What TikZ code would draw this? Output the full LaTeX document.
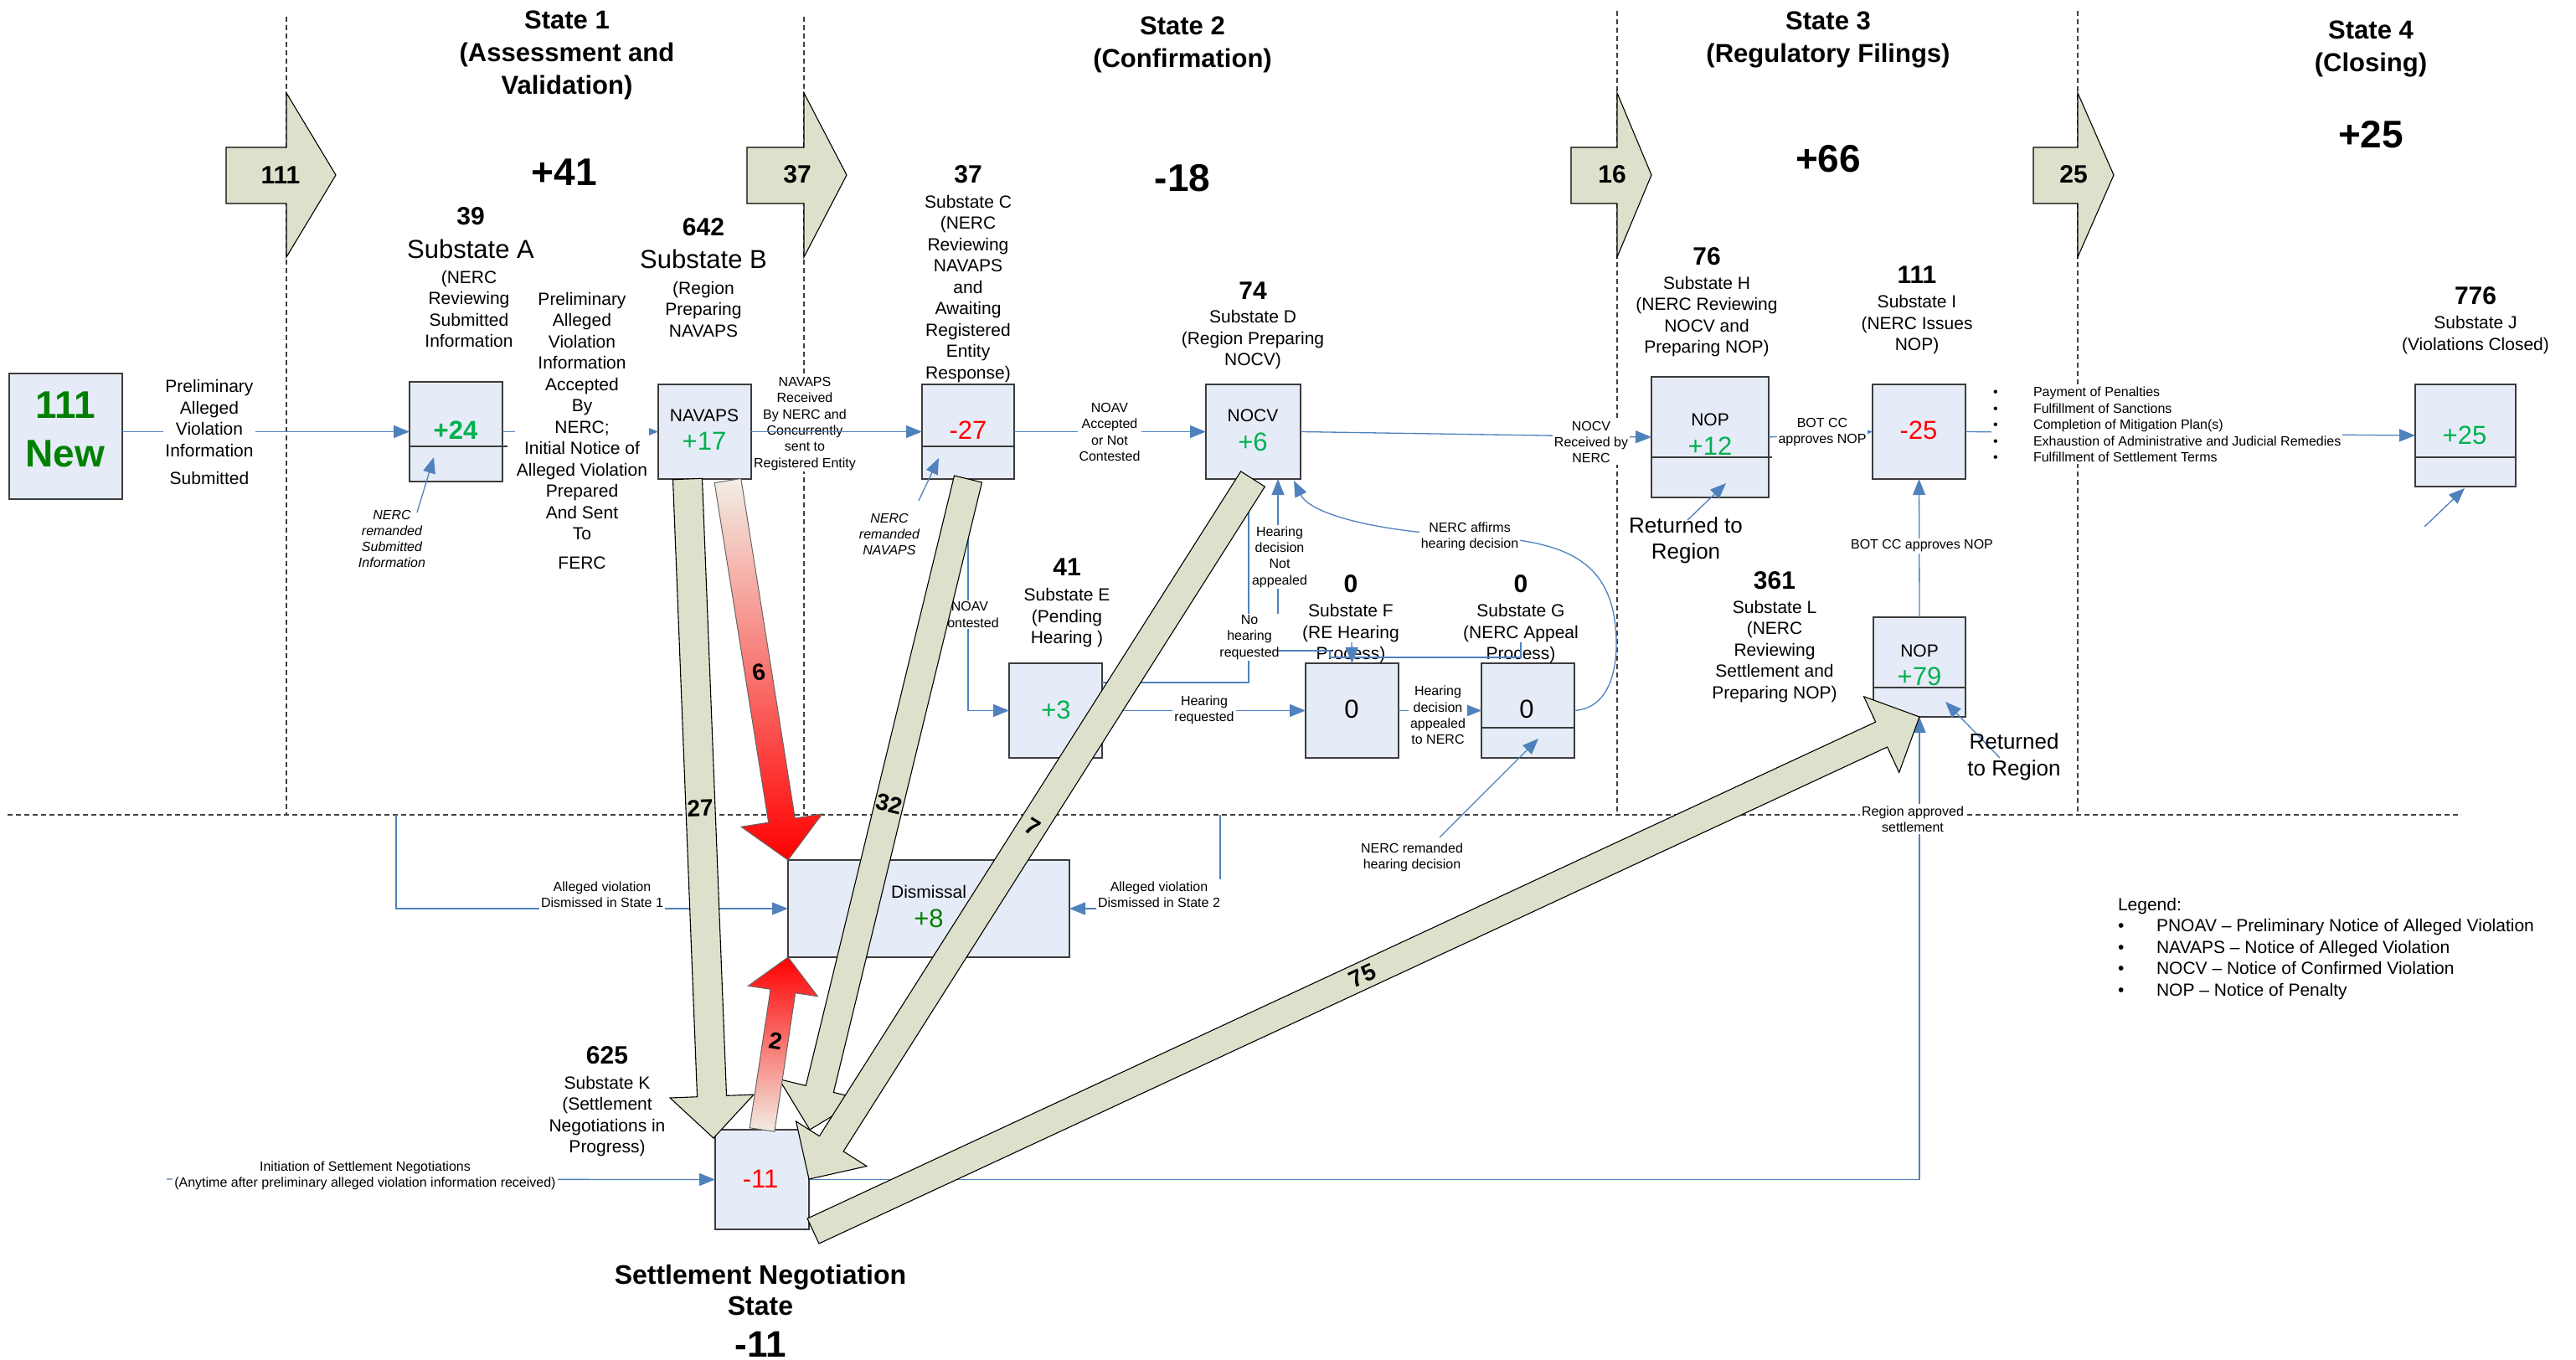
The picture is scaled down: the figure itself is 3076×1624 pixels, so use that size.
\documentclass[tikz,border=0pt]{standalone}
\usepackage{fontspec}
\setmainfont{Liberation Sans}
\usetikzlibrary{arrows.meta,calc}
\definecolor{barfill}{RGB}{221,225,203}
\definecolor{boxfill}{RGB}{230,236,247}
\definecolor{boxline}{RGB}{60,60,60}
\definecolor{conn}{RGB}{79,129,189}
\definecolor{grn}{RGB}{0,176,80}
\definecolor{dgrn}{RGB}{0,128,0}
\definecolor{cream}{RGB}{242,238,228}
\definecolor{rd}{RGB}{255,0,0}
\newcommand\fs[2]{\fontsize{#1}{#2}\selectfont}
\newcommand\mkbox[5]{\node[xbox, minimum width={(#4-#2)*1pt}, minimum height={(#5-#3)*1pt}] (#1) at ({(#2+#4)/2},{(#3+#5)/2}) {};}
\newcommand\blockarrow[6]{%
  \coordinate (ba-h) at ($(#2)!#5!(#1)$);
  \path[#6] ($(#1)!#3!90:(#2)$) -- ($(ba-h)!#3!90:(#2)$) -- ($(ba-h)!#4!90:(#2)$) -- (#2)
    -- ($(ba-h)!#4!-90:(#2)$) -- ($(ba-h)!#3!-90:(#2)$) -- ($(#1)!#3!-90:(#2)$) -- cycle;}
\newcommand\topblock[3]{%
  \draw[xtop] (#1,176) -- (#2,176) -- (#2,111) -- (#3,209) -- (#2,307) -- (#2,243) -- (#1,243) -- cycle;}
\begin{document}
\begin{tikzpicture}[x=1pt,y=-1pt,
  every node/.style={inner sep=0pt, outer sep=0pt},
  xlab/.style={align=center, font=\fs{21}{25.5}},
  xsml/.style={align=center, font=\fs{16}{19.3}},
  xwh/.style={fill=white, inner sep=2pt},
  xbig/.style={align=center, font=\fs{31}{39}\bfseries},
  xnum/.style={font=\fs{30}{36}\bfseries},
  xsub/.style={font=\fs{31}{36}},
  xdelta/.style={font=\fs{46}{52}\bfseries},
  xbox/.style={draw=boxline, fill=boxfill, line width=1.4pt},
  xboxnum/.style={font=\fs{31}{36}},
  xboxtxt/.style={font=\fs{21}{25}},
  xcn/.style={draw=conn, line width=1.3pt},
  xcna/.style={xcn, -{Triangle[length=19pt,width=15pt]}},
  xdash/.style={draw=black!75, line width=1.1pt, dash pattern=on 6pt off 4pt},
  xbar/.style={fill=barfill, draw=black, line width=1.1pt},
  xtop/.style={fill=barfill, draw=black, line width=1.1pt},
  xredd/.style={top color=cream, bottom color=rd, draw=black!60, line width=1pt},
  xredu/.style={bottom color=cream, top color=rd, draw=black!60, line width=1pt},
  xbarnum/.style={font=\fs{28}{32}\bfseries},
  xital/.style={align=center, font=\fs{16}{19}\itshape}]
\fill[white] (0,0) rectangle (3076,1624);
\useasboundingbox (0,0) rectangle (3076,1624);

% ---- dashed separators
\draw[xdash] (342,20) -- (342,973);
\draw[xdash] (960,20) -- (960,973);
\draw[xdash] (1931,13) -- (1931,973);
\draw[xdash] (2481,13) -- (2481,973);
\draw[xdash] (9,973) -- (2939,973);

% ---- top block arrows
\topblock{270}{342}{401}
\topblock{892}{960}{1011}
\topblock{1876}{1931}{1972}
\topblock{2428}{2481}{2524}
\node[xnum] at (335,209) {111};
\node[xnum] at (952,208) {37};
\node[xnum] at (1925,208) {16};
\node[xnum] at (2476,208) {25};

% ---- state titles
\node[xbig] at (677,66) {State 1\\(Assessment and\\Validation)};
\node[xdelta] at (674,206) {+41};
\node[xbig] at (1412,53) {State 2\\(Confirmation)};
\node[xdelta] at (1412,213) {-18};
\node[xbig] at (2183,47) {State 3\\(Regulatory Filings)};
\node[xdelta] at (2183,190) {+66};
\node[xbig] at (2831,58) {State 4\\(Closing)};
\node[xdelta] at (2831,161) {+25};

% ---- boxes
\mkbox{New}{11}{446}{146}{596}
\mkbox{A}{489}{456}{600}{575}
\mkbox{B}{786}{459}{897}{572}
\mkbox{C}{1101}{459}{1211}{572}
\mkbox{D}{1440}{459}{1553}{572}
\mkbox{E}{1205}{792}{1316}{905}
\mkbox{F}{1559}{792}{1670}{905}
\mkbox{G}{1769}{792}{1880}{905}
\mkbox{H}{1972}{450}{2112}{594}
\mkbox{I}{2236}{459}{2347}{572}
\mkbox{J}{2884}{459}{3004}{581}
\mkbox{K}{854}{1349}{966}{1468}
\mkbox{L}{2237}{737}{2347}{856}
\mkbox{Dis}{941}{1027}{1277}{1143}
\draw[boxline, line width=1.4pt] (489,533) -- (606,533);
\draw[boxline, line width=1.4pt] (1101,533) -- (1211,533);
\draw[boxline, line width=1.4pt] (1769,869) -- (1880,869);
\draw[boxline, line width=1.4pt] (1972,546) -- (2116,546);
\draw[boxline, line width=1.4pt] (2884,546) -- (3004,546);
\draw[boxline, line width=1.4pt] (2237,821) -- (2347,821);

% ---- box contents
\node[font=\fs{46}{58}\bfseries, text=dgrn, align=center] at (78,513) {111\\New};
\node[font=\fs{31}{36}\bfseries, text=grn] at (544,514) {+24};
\node[xboxtxt] at (841,496) {NAVAPS};
\node[xboxnum, text=grn] at (841,527) {+17};
\node[xboxnum, text=rd] at (1156,514) {-27};
\node[xboxtxt] at (1496,496) {NOCV};
\node[xboxnum, text=grn] at (1496,528) {+6};
\node[xboxnum, text=grn] at (1261,848) {+3};
\node[xboxnum] at (1614,847) {0};
\node[xboxnum] at (1823,847) {0};
\node[xboxtxt] at (2042,501) {NOP};
\node[xboxnum, text=grn] at (2042,533) {+12};
\node[xboxnum, text=rd] at (2291,514) {-25};
\node[xboxnum, text=grn] at (2943,520) {+25};
\node[xboxnum, text=rd] at (908,1408) {-11};
\node[xboxtxt] at (2292,777) {NOP};
\node[xboxnum, text=grn] at (2292,808) {+79};
\node[xboxtxt] at (1109,1065) {Dismissal};
\node[xboxnum, text=dgrn] at (1109,1097) {+8};

% ---- substate headers
\node[xnum] at (562,258) {39};
\node[xsub] at (562,297) {Substate A};
\node[xlab] at (560,369) {(NERC\\Reviewing\\Submitted\\Information};
\node[xnum] at (840,271) {642};
\node[xsub] at (840,309) {Substate B};
\node[xlab] at (840,369) {(Region\\Preparing\\NAVAPS};
\node[xnum] at (1156,208) {37};
\node[xlab] at (1156,345) {Substate C\\(NERC\\Reviewing\\NAVAPS\\and\\Awaiting\\Registered\\Entity\\Response)};
\node[xnum] at (1496,347) {74};
\node[xlab] at (1496,406) {Substate D\\(Region Preparing\\NOCV)};
\node[xnum] at (1274,677) {41};
\node[xlab] at (1274,738) {Substate E\\(Pending\\Hearing )};
\node[xnum] at (1613,697) {0};
\node[xlab] at (1613,757) {Substate F\\(RE Hearing\\Process)};
\node[xnum] at (1816,697) {0};
\node[xlab] at (1816,757) {Substate G\\(NERC Appeal\\Process)};
\node[xnum] at (2038,306) {76};
\node[xlab] at (2038,378) {Substate H\\(NERC Reviewing\\NOCV and\\Preparing NOP)};
\node[xnum] at (2289,328) {111};
\node[xlab] at (2289,388) {Substate I\\(NERC Issues\\NOP)};
\node[xnum] at (2956,353) {776};
\node[xlab] at (2956,400) {Substate J\\(Violations Closed)};
\node[xnum] at (725,1260) {625};
\node[xlab] at (725,1333) {Substate K\\(Settlement\\Negotiations in\\Progress)};
\node[xnum] at (2119,693) {361};
\node[xlab] at (2119,778) {Substate L\\(NERC\\Reviewing\\Settlement and\\Preparing NOP)};

% ---- named free ends
\coordinate (rA1) at (498,612);   \coordinate (rA2) at (518,546);
\coordinate (rC1) at (1097,598);  \coordinate (rC2) at (1121,547);
\coordinate (nh1) at (1316,815);  \coordinate (nh2) at (1491,815);
\coordinate (Dnh) at (1491,572);
\coordinate (Dna) at (1526,572);
\coordinate (Daf) at (1545,574);
\coordinate (na1) at (1816,767);  \coordinate (na2) at (1816,785);
\coordinate (na3) at (1588,785);  \coordinate (na4) at (1588,777);
\coordinate (na5) at (1526,777);
\coordinate (fr) at (1614,767);
\coordinate (rG1) at (1719,1000); \coordinate (rG2) at (1837,882);
\coordinate (rH1) at (2015,621);  \coordinate (rH2) at (2061,577);
\coordinate (rL1) at (2388,905);  \coordinate (rL2) at (2323,838);
\coordinate (rJ1) at (2895,629);  \coordinate (rJ2) at (2943,583);
\coordinate (d1) at (473,973);    \coordinate (d2) at (1457,973);
\coordinate (ini) at (199,1408);

% ---- connectors
\draw[xcna] (New.east |- A.west) -- (A.west);
\draw[xcna] (A.east) -- (B.west);
\draw[xcna] (C.east) -- (D.west);
\draw[xcna] (D.east) -- (H.west);
\draw[xcna] (H.east) -- (I.west);
\draw[xcna] (I.east) -- (J.west);
\draw[xcna] (rA1) -- (rA2);
\draw[xcna] (rC1) -- (rC2);
\draw[xcna] (C.south) -- (C.south |- E.west) -- (E.west);
\draw[xcna] (E.east) -- (F.west);
\draw[xcna] (nh1) -- (nh2) -- (Dnh);
\draw[xcna] (F.east) -- (G.west);
\draw[xcna] (G.east) .. controls (1935,845) and (1935,765) .. (1925,725)
   .. controls (1908,660) and (1850,645) .. (1760,640)
   .. controls (1650,636) and (1565,615) .. (Daf);
\draw[xcna] (na5) -- (Dna);
\draw[xcna] (rG1) -- (rG2);
\draw[xcna] (rH1) -- (rH2);
\draw[xcna] (L.north) -- (I.south);
\draw[xcna] (K.east) -- (K.east -| L.south) -- (L.south);
\draw[xcna] (rL1) -- (rL2);
\draw[xcna] (rJ1) -- (rJ2);
\draw[xcna] (d1) -- (d1 |- Dis.west) -- (Dis.west);
\draw[xcna] (d2) -- (d2 |- Dis.east) -- (Dis.east);
\draw[xcna] (ini) -- (K.west);

% ---- connector labels
\node[xlab, xwh] at (250,516) {Preliminary\\Alleged\\Violation\\Information\\[8pt]Submitted};
\node[xlab, xwh] at (695,514) {Preliminary\\Alleged\\Violation\\Information\\Accepted\\By\\NERC;\\Initial Notice of\\Alleged Violation\\Prepared\\And Sent\\To\\[9pt]FERC};
\node[xsml, xwh] at (961,506) {NAVAPS\\Received\\By NERC and\\Concurrently\\sent to\\Registered Entity};
\draw[xcna] (B.east) -- (C.west);
\node[xsml, xwh] at (1325,516) {NOAV\\Accepted\\or Not\\Contested};
\node[xsml, xwh] at (1900,528) {NOCV\\Received by\\NERC};
\node[xsml, xwh] at (2176,516) {BOT CC\\approves NOP};
\node[anchor=west, fill=white, inner sep=2pt, align=left, font=\fs{16}{19.5}] at (2378,507)
  {\makebox[48pt][l]{\textbullet}Payment of Penalties\\
   \makebox[48pt][l]{\textbullet}Fulfillment of Sanctions\\
   \makebox[48pt][l]{\textbullet}Completion of Mitigation Plan(s)\\
   \makebox[48pt][l]{\textbullet}Exhaustion of Administrative and Judicial Remedies\\
   \makebox[48pt][l]{\textbullet}Fulfillment of Settlement Terms};
\node[xital] at (468,643) {NERC\\remanded\\Submitted\\Information};
\node[xital] at (1062,638) {NERC\\remanded\\NAVAPS};
\node[xsml, xwh] at (1158,734) {NOAV\\contested};
\node[xsml, xwh] at (1438,848) {Hearing\\requested};
\node[xsml, xwh] at (1492,761) {No\\hearing\\requested};
\node[xsml, xwh] at (1528,665) {Hearing\\decision\\Not\\appealed};
\node[xsml, xwh] at (1717,854) {Hearing\\decision\\appealed\\to NERC};
\node[xsml, xwh] at (1755,641) {NERC affirms\\hearing decision};
\node[xsml] at (1686,1024) {NERC remanded\\hearing decision};
\node[xsml, xwh] at (2295,652) {BOT CC approves NOP};
\node[xsml, xwh] at (2284,978) {Region approved\\settlement};
\node[xsml, xwh] at (719,1068) {Alleged violation\\Dismissed in State 1};
\node[xsml, xwh] at (1384,1068) {Alleged violation\\Dismissed in State 2};
\node[xsml, xwh] at (436,1404) {Initiation of Settlement Negotiations\\(Anytime after preliminary alleged violation information received)};
\node[font=\fs{26}{31}, align=center] at (2013,645) {Returned to\\Region};
\node[font=\fs{26}{32}, align=center] at (2405,904) {Returned\\to Region};

% ---- lines over the F/G headers
\draw[xcn] (na1) -- (na2) -- (na3) -- (na4) -- (na5);
\draw[xcna] (fr) -- (F.north);

% ---- flow bars
\coordinate (t27) at (821,572);  \coordinate (h27) at (852,1359);
\coordinate (t6) at (869,574);   \coordinate (h6) at (941,1027);
\coordinate (t32) at (1156,572); \coordinate (h32) at (967,1349);
\coordinate (t7) at (1496,572);  \coordinate (h7) at (966,1408);
\coordinate (t2) at (910,1349);  \coordinate (h2) at (941,1143);
\coordinate (t75) at (971,1470); \coordinate (h75) at (2292,856);
\blockarrow{t27}{h27}{17.5pt}{50pt}{50pt}{xbar}
\blockarrow{t6}{h6}{16pt}{49pt}{48pt}{xredd}
\blockarrow{t32}{h32}{17pt}{50pt}{50pt}{xbar}
\blockarrow{t7}{h7}{17pt}{50pt}{50pt}{xbar}
\blockarrow{t2}{h2}{15pt}{42pt}{41pt}{xredu}
\blockarrow{t75}{h75}{16.5pt}{50pt}{50pt}{xbar}
\node[xbarnum, rotate=2] at (836,965) {27};
\node[xbarnum, rotate=9] at (906,803) {6};
\node[xbarnum, rotate=-14] at (1062,960) {32};
\node[xbarnum, rotate=-32] at (1233,987) {7};
\node[xbarnum, rotate=-9] at (926,1243) {2};
\node[xbarnum, rotate=25] at (1627,1165) {75};

% ---- settlement state title
\node[font=\fs{32}{37}\bfseries, align=center] at (908,1541) {Settlement Negotiation\\State};
\node[font=\fs{44}{48}\bfseries] at (908,1605) {-11};

% ---- legend
\node[anchor=north west, align=left, font=\fs{21}{25.5}] at (2529,1072)
  {Legend:\\
   \makebox[46pt][l]{\textbullet}PNOAV -- Preliminary Notice of Alleged Violation\\
   \makebox[46pt][l]{\textbullet}NAVAPS -- Notice of Alleged Violation\\
   \makebox[46pt][l]{\textbullet}NOCV -- Notice of Confirmed Violation\\
   \makebox[46pt][l]{\textbullet}NOP -- Notice of Penalty};
\end{tikzpicture}
\end{document}
